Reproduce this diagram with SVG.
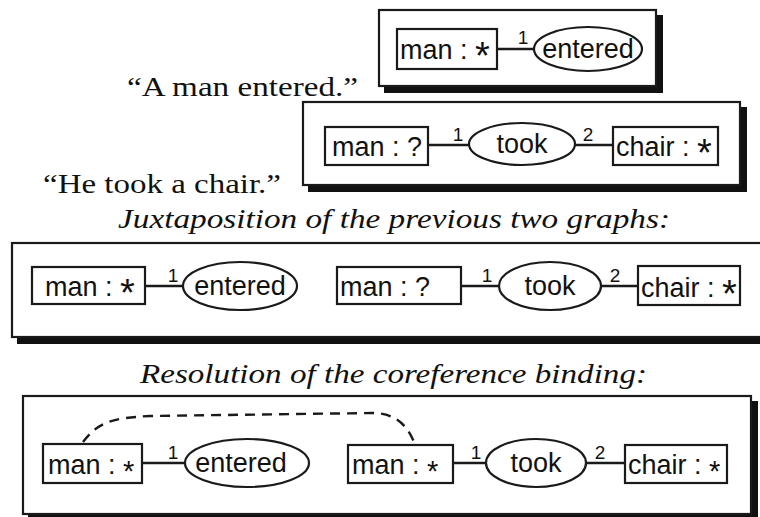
<svg xmlns="http://www.w3.org/2000/svg" width="760" height="517" viewBox="0 0 760 517">
  <style>
    .panel { fill: #fff; stroke: #1a1a1a; stroke-width: 2.2; }
    .shadow { fill: #111; stroke: #111; stroke-width: 2; }
    .concept { fill: #fff; stroke: #1a1a1a; stroke-width: 2.2; }
    .relation { fill: #fff; stroke: #1a1a1a; stroke-width: 2.2; }
    .arc { fill: none; stroke: #1a1a1a; stroke-width: 2.4; }
    .coref { fill: none; stroke: #1a1a1a; stroke-width: 2.4; stroke-dasharray: 10 7; }
    .lbl { font-family: "Liberation Sans", Arial, sans-serif; font-size: 27px; fill: #111; }
    .star { font-size: 38px; }
    .small { font-size: 29px; }
    .num { font-family: "Liberation Sans", Arial, sans-serif; font-size: 19px; fill: #111; text-anchor: middle; }
    .quote { font-family: "Liberation Serif", "Times New Roman", serif; font-size: 27px; fill: #111; }
    .cap { font-family: "Liberation Serif", "Times New Roman", serif; font-style: italic; font-size: 27px; fill: #111; }
  </style>

  <!-- sentence texts and captions -->
  <text class="quote" x="127" y="96" textLength="231" lengthAdjust="spacingAndGlyphs">“A man entered.”</text>
  <text class="quote" x="43" y="193" textLength="238" lengthAdjust="spacingAndGlyphs">“He took a chair.”</text>
  <text class="cap" x="118" y="228" textLength="552" lengthAdjust="spacingAndGlyphs">Juxtaposition of the previous two graphs:</text>
  <text class="cap" x="140" y="383" textLength="507" lengthAdjust="spacingAndGlyphs">Resolution of the coreference binding:</text>

  <!-- context boxes with drop shadows -->
  <g id="ctx1">
    <rect class="shadow" x="385" y="16" width="277" height="76"/>
    <rect class="panel" x="379" y="10" width="277" height="76"/>
  </g>
  <g id="ctx2">
    <rect class="shadow" x="309" y="108" width="437" height="83"/>
    <rect class="panel" x="303" y="102" width="437" height="83"/>
  </g>
  <g id="ctx3">
    <rect class="shadow" x="18" y="249" width="760" height="94"/>
    <rect class="panel" x="12" y="243" width="760" height="94"/>
  </g>
  <g id="ctx4">
    <rect class="shadow" x="29" y="402" width="728" height="118"/>
    <rect class="panel" x="23" y="396" width="728" height="118"/>
  </g>

  <!-- connectors -->
  <g id="connectors">
    <line class="arc" x1="497" y1="49" x2="534" y2="49"/>
    <line class="arc" x1="428" y1="145" x2="470" y2="145"/>
    <line class="arc" x1="575" y1="145" x2="613" y2="145"/>
    <line class="arc" x1="145" y1="286" x2="184" y2="286"/>
    <line class="arc" x1="461" y1="286" x2="499" y2="286"/>
    <line class="arc" x1="601" y1="286" x2="638" y2="286"/>
    <line class="arc" x1="142" y1="463" x2="185" y2="463"/>
    <line class="arc" x1="453" y1="463" x2="486" y2="463"/>
    <line class="arc" x1="586" y1="463" x2="625" y2="463"/>
    <path class="coref" d="M83,442 C98,422 112,418 150,416 L372,413 C395,413 407,425 414,442"/>
    <text class="num" x="523" y="44">1</text>
    <text class="num" x="458" y="141">1</text>
    <text class="num" x="588" y="141">2</text>
    <text class="num" x="173" y="282">1</text>
    <text class="num" x="487" y="282">1</text>
    <text class="num" x="615" y="282">2</text>
    <text class="num" x="173" y="459">1</text>
    <text class="num" x="476" y="459">1</text>
    <text class="num" x="600" y="459">2</text>
  </g>

  <!-- graph 1: a man entered -->
  <g id="g1-man">
    <rect class="concept" x="397" y="29" width="100" height="40"/>
    <text class="lbl" x="400" y="59">man : <tspan class="star" dy="10">*</tspan></text>
  </g>
  <g id="g1-entered">
    <ellipse class="relation" cx="588" cy="49" rx="54" ry="22"/>
    <text class="lbl" x="588" y="58" text-anchor="middle">entered</text>
  </g>

  <!-- graph 2: he took a chair -->
  <g id="g2-man">
    <rect class="concept" x="325" y="127" width="103" height="38"/>
    <text class="lbl" x="332" y="156">man : ?</text>
  </g>
  <g id="g2-took">
    <ellipse class="relation" cx="522" cy="144" rx="53" ry="21"/>
    <text class="lbl" x="522" y="153" text-anchor="middle">took</text>
  </g>
  <g id="g2-chair">
    <rect class="concept" x="613" y="127" width="105" height="38"/>
    <text class="lbl" x="616" y="156">chair : <tspan class="star" dy="10">*</tspan></text>
  </g>

  <!-- juxtaposition -->
  <g id="g3-man1">
    <rect class="concept" x="32" y="267" width="113" height="37"/>
    <text class="lbl" x="45" y="296">man : <tspan class="star" dy="10">*</tspan></text>
  </g>
  <g id="g3-entered">
    <ellipse class="relation" cx="240" cy="286" rx="57" ry="24"/>
    <text class="lbl" x="240" y="295" text-anchor="middle">entered</text>
  </g>
  <g id="g3-man2">
    <rect class="concept" x="337" y="267" width="124" height="37"/>
    <text class="lbl" x="340" y="296">man : ?</text>
  </g>
  <g id="g3-took">
    <ellipse class="relation" cx="550" cy="286" rx="51" ry="24"/>
    <text class="lbl" x="550" y="295" text-anchor="middle">took</text>
  </g>
  <g id="g3-chair">
    <rect class="concept" x="638" y="266" width="102" height="39"/>
    <text class="lbl" x="641" y="297">chair : <tspan class="star" dy="10">*</tspan></text>
  </g>

  <!-- resolved coreference -->
  <g id="g4-man1">
    <rect class="concept" x="43" y="444" width="99" height="39"/>
    <text class="lbl" x="48" y="474">man : <tspan class="star small" dy="7">*</tspan></text>
  </g>
  <g id="g4-entered">
    <ellipse class="relation" cx="247" cy="463" rx="62" ry="24"/>
    <text class="lbl" x="241" y="472" text-anchor="middle">entered</text>
  </g>
  <g id="g4-man2">
    <rect class="concept" x="348" y="445" width="105" height="38"/>
    <text class="lbl" x="352" y="474">man : <tspan class="star small" dy="7">*</tspan></text>
  </g>
  <g id="g4-took">
    <ellipse class="relation" cx="536" cy="463" rx="50" ry="24"/>
    <text class="lbl" x="536" y="472" text-anchor="middle">took</text>
  </g>
  <g id="g4-chair">
    <rect class="concept" x="625" y="445" width="102" height="38"/>
    <text class="lbl" x="628" y="474">chair : <tspan class="star small" dy="7">*</tspan></text>
  </g>
</svg>
